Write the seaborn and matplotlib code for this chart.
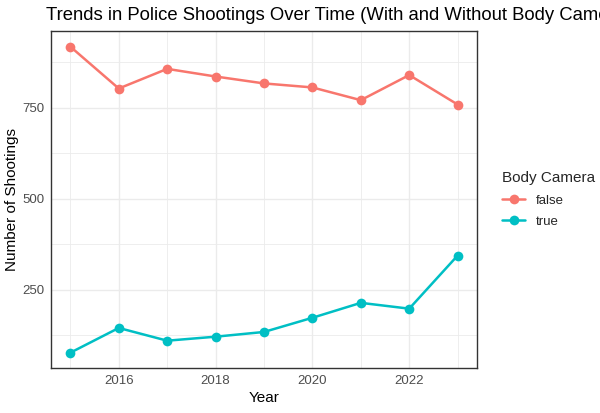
import pandas as pd
import numpy as np
import matplotlib
matplotlib.use("Agg")
import matplotlib.pyplot as plt
import seaborn as sns
from matplotlib.ticker import FixedLocator

# data
years = [2015, 2016, 2017, 2018, 2019, 2020, 2021, 2022, 2023]
no_camera = [918, 803, 857, 836, 817, 806, 771, 840, 759]
with_camera = [77, 145, 110, 121, 134, 173, 214, 198, 344]
groups = ['false', 'true']
colors = ['#F8766D', '#00BFC4']

df = pd.DataFrame({
    'Year': years * 2,
    'Shootings': no_camera + with_camera,
    'Body Camera': [groups[0]] * len(years) + [groups[1]] * len(years),
})

sns.set_style('white')
plt.rcParams['font.family'] = ['Liberation Sans', 'DejaVu Sans']

fig = plt.figure(figsize=(6, 4.13), dpi=100)
ax = fig.add_axes([0.085, 0.109, 0.71, 0.815])

sns.lineplot(data=df, x='Year', y='Shootings', hue='Body Camera',
             hue_order=groups, palette=colors, marker='o', markersize=7,
             markeredgewidth=0, linewidth=1.8, ax=ax, zorder=3)

ax.set_xlim(2014.6, 2023.4)
ax.set_ylim(35, 960)
ax.xaxis.set_major_locator(FixedLocator([2016, 2018, 2020, 2022]))
ax.xaxis.set_minor_locator(FixedLocator([2015, 2017, 2019, 2021, 2023]))
ax.yaxis.set_major_locator(FixedLocator([250, 500, 750]))
ax.yaxis.set_minor_locator(FixedLocator([125, 375, 625, 875]))
ax.grid(which='major', color='#EBEBEB', linewidth=1.0)
ax.grid(which='minor', color='#EBEBEB', linewidth=0.6)
ax.set_axisbelow(True)

for sp in ax.spines.values():
    sp.set_color('#333333')
    sp.set_linewidth(1.0)

ax.tick_params(which='major', length=3, color='#333333', labelsize=9.5,
               labelcolor='#4D4D4D', pad=2)
ax.tick_params(which='minor', length=0)

ax.set_xlabel('Year', fontsize=11, color='black', labelpad=3)
ax.set_ylabel('Number of Shootings', fontsize=11, color='black', labelpad=2)

fig.text(0.077, 0.963, 'Trends in Police Shootings Over Time (With and Without Body Cameras)',
         fontsize=13.3, ha='left', va='center', color='black')

leg = ax.legend(title='Body Camera', loc='upper left', bbox_to_anchor=(1.03, 0.62),
                frameon=False, fontsize=9.5, title_fontsize=11,
                handlelength=1.8, labelspacing=0.7)
leg._legend_box.align = 'left'

fig.savefig('out.png', dpi=100)
